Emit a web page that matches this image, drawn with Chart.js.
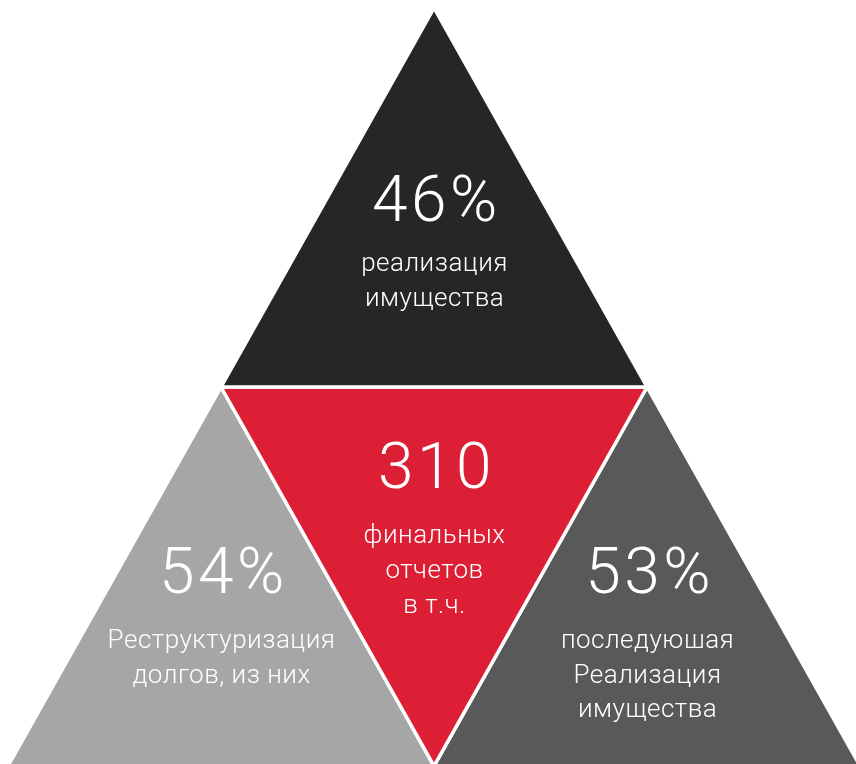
<!DOCTYPE html>
<html>
<head>
<meta charset="utf-8">
<script src="https://cdn.jsdelivr.net/npm/chart.js@4.4.1/dist/chart.umd.min.js"></script>
<style>
  html, body { margin: 0; padding: 0; background: #ffffff; }
  #wrap { width: 856px; height: 764px; position: relative; }
</style>
</head>
<body>
<div id="wrap"><canvas id="c"></canvas></div>
<script>
// ---- data ----
const categories = ['top', 'center', 'left', 'right'];
const values = ['46%', '310', '54%', '53%'];
const captions = [
  ['реализация', 'имущества'],
  ['финальных', 'отчетов', 'в т.ч.'],
  ['Реструктуризация', 'долгов, из них'],
  ['последуюшая', 'Реализация', 'имущества']
];
const colors = ['#262626', '#dc1f35', '#a6a6a6', '#595959'];

// ---- geometry (lattice units of the big subdivided triangle) ----
// big triangle: (0,0) - (4,0) - (2,2); sub-triangles via edge midpoints
const shapes = [
  [[1, 1], [3, 1], [2, 2]],   // top
  [[1, 1], [3, 1], [2, 0]],   // center (inverted)
  [[0, 0], [2, 0], [1, 1]],   // left
  [[2, 0], [4, 0], [3, 1]]    // right
];
// text anchors: [u, number-baseline v, first caption baseline v]
const anchors = [
  [2, 1.437, 1.306],
  [2, 0.733, 0.588],
  [1, 0.456, 0.311],
  [3, 0.456, 0.311]
];
const lineStep = 0.0915; // caption line step in v units

const datasets = shapes.map((tri, i) => ({
  label: categories[i],
  data: [...tri, tri[0]].map(p => ({ x: p[0], y: p[1] })),
  showLine: true,
  fill: 'shape',
  backgroundColor: colors[i],
  borderColor: '#ffffff',
  borderWidth: 3.5,
  borderJoinStyle: 'miter',
  pointRadius: 0,
  pointHoverRadius: 0,
  tension: 0
}));

const textPlugin = {
  id: 'texts',
  afterDatasetsDraw(chart) {
    const ctx = chart.ctx;
    const xs = chart.scales.x, ys = chart.scales.y;
    ctx.save();
    ctx.fillStyle = '#ffffff';
    ctx.textAlign = 'center';
    ctx.textBaseline = 'alphabetic';
    anchors.forEach((a, i) => {
      const x = xs.getPixelForValue(a[0]);
      ctx.font = '300 64px Roboto';
      ctx.letterSpacing = '3.5px';
      ctx.fillText(values[i], x + 2.5, ys.getPixelForValue(a[1]));
      ctx.font = '300 26px Roboto';
      ctx.letterSpacing = '0.5px';
      captions[i].forEach((line, k) => {
        ctx.fillText(line, x + 0.5, ys.getPixelForValue(a[2] - k * lineStep));
      });
    });
    ctx.restore();
  }
};

new Chart(document.getElementById('c'), {
  type: 'scatter',
  data: { datasets },
  options: {
    responsive: true,
    maintainAspectRatio: false,
    animation: false,
    layout: { padding: 0 },
    plugins: { legend: { display: false }, tooltip: { enabled: false } },
    events: [],
    scales: {
      x: { type: 'linear', display: false, min: -0.0376, max: 3.981 },
      y: { type: 'linear', display: false, min: 0.00528, max: 2.0211 }
    }
  },
  plugins: [textPlugin]
});
</script>
</body>
</html>
